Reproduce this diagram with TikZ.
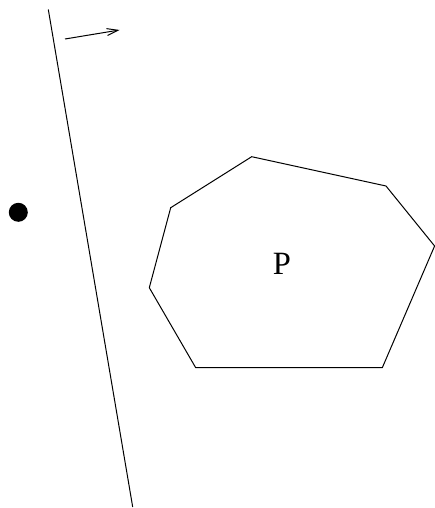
\documentclass[tikz,border=0pt]{standalone}
\usepackage{fontspec}
\setmainfont{Liberation Serif}
\usetikzlibrary{arrows.meta}
\begin{document}
\begin{tikzpicture}[x=1pt,y=-1pt,
  edge/.style={line width=1pt,black},
  lbl/.style={font=\fontsize{32.5}{32.5}\selectfont,inner sep=0pt}]
\useasboundingbox (0,0) rectangle (435,508);
% separating line
\coordinate (lt) at (48.3,9.5);
\coordinate (lb) at (132.7,507);
\draw[edge] (lt) -- (lb);
% direction arrow
\coordinate (as) at (65,39);
\coordinate (ae) at (119.5,30);
\draw[edge,-{Straight Barb[length=11pt,width=7pt,line width=1pt]}] (as) -- (ae);
% point
\fill (18.3,212.3) circle (9.5);
% polygon
\coordinate (p1) at (251.7,156.7);
\coordinate (p2) at (386,186);
\coordinate (p3) at (434.6,246);
\coordinate (p4) at (382.3,367.7);
\coordinate (p5) at (195.7,367.7);
\coordinate (p6) at (149.3,287.7);
\coordinate (p7) at (170.7,207.7);
\draw[edge,line join=miter] (p1) -- (p2) -- (p3) -- (p4) -- (p5) -- (p6) -- (p7) -- cycle;
\node[lbl] (P) at (281.8,264.2) {P};
\end{tikzpicture}
\end{document}
